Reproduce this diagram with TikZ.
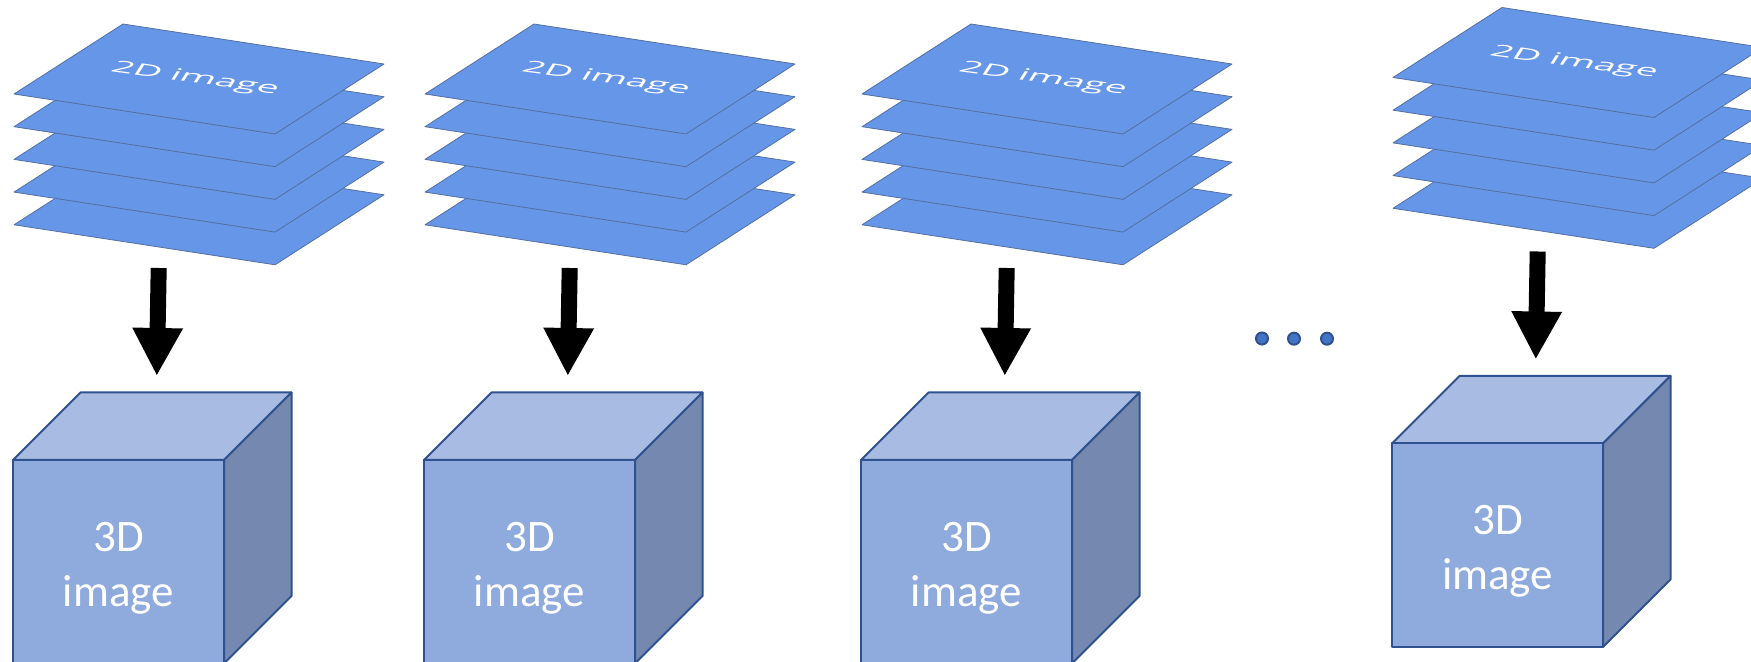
\documentclass[tikz,border=0pt]{standalone}
\usepackage{fontspec}
\setmainfont{Carlito}
\newfontfamily\sheetfont{Open Sans}
\usetikzlibrary{arrows.meta}

\definecolor{sheetfill}{RGB}{102,150,232}
\definecolor{sheetedge}{RGB}{84,112,160}
\definecolor{cubefront}{RGB}{143,170,220}
\definecolor{cubetop}{RGB}{168,187,226}
\definecolor{cubeside}{RGB}{117,137,176}
\definecolor{cubeedge}{RGB}{47,82,143}
\definecolor{dotfill}{RGB}{68,114,196}

\begin{document}
\begin{tikzpicture}[x=0.5pt, y=-0.5pt,
  sheet/.style={fill=sheetfill, draw=sheetedge, line width=0.4pt, line join=round},
  sheetlabel/.style={text=white, font=\sheetfont\fontsize{10}{12}\selectfont,
    inner sep=0pt, cm={1.88,-0.25,0.5,0.78,(0,0)}},
  face/.style={draw=cubeedge, line width=1pt, line join=round},
  cubelabel/.style={text=white, font=\fontsize{22.5}{27.5}\selectfont,
    align=center, inner sep=0pt},
  bigarrow/.style={line width=8pt, -{Triangle[width=23.5pt,length=24pt]}},
  dot/.style={circle, fill=dotfill, draw=cubeedge, line width=1pt,
    minimum size=6pt, inner sep=0pt}
]
\clip (0,0) rectangle (1751,662);

% one column per volume: a stack of slices, an arrow, and the resulting cube
\foreach \g/\dx/\dy in {1/0/0, 2/411/0, 3/848/0, 4/1379/-16.5} {
  \begin{scope}[shift={(\dx,\dy)}]
    % slices, drawn from the bottom one up
    \foreach \k in {4,3,2,1,0} {
      \draw[sheet] (14,94+32.7*\k) -- ++(109,-70) -- ++(261,40)
                   -- ++(-109,70) -- cycle;
    }
    \node[sheetlabel] (slice\g) at (195,79) {2D image};

    % block arrow from the stack to the cube
    \coordinate (from\g) at (158.7,268);
    \coordinate (to\g) at (156.8,376);
    \draw[bigarrow] (from\g) -- (to\g);

    % cube faces
    \fill[cubetop] (13,460) -- (80.5,392.5) -- (291.5,392.5) -- (224,460) -- cycle;
    \draw[face] (13,460) -- (80.5,392.5) -- (291.5,392.5) -- (224,460) -- cycle;
    \fill[cubeside] (224,460) -- (291.5,392.5) -- (291.5,596) -- (224,663.5) -- cycle;
    \draw[face] (224,460) -- (291.5,392.5) -- (291.5,596) -- (224,663.5) -- cycle;
    \fill[cubefront] (13,460) rectangle (224,663.5);
    \draw[face] (13,460) rectangle (224,663.5);
    \node[cubelabel] (cube\g) at (118.5,568) {3D\\image};
  \end{scope}
}

% ellipsis between the third and the last column
\node[dot] (dotA) at (1262,338.5) {};
\node[dot] (dotB) at (1294,338.7) {};
\node[dot] (dotC) at (1327,338.7) {};
\end{tikzpicture}
\end{document}
